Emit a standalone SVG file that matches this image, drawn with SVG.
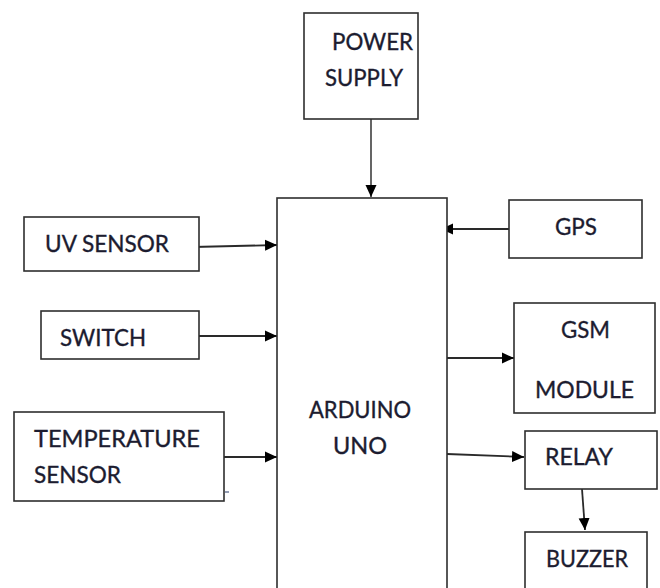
<svg xmlns="http://www.w3.org/2000/svg" width="660" height="588" viewBox="0 0 660 588">
<style>
.box{fill:#fff;stroke:#2e2e2e;stroke-width:1.6}
.t{font-family:Lato,"Open Sans","Liberation Sans",sans-serif;font-size:23px;fill:#1c1c30;stroke:#1c1c30;stroke-width:0.35}
.c{stroke:#2a2a2a;stroke-width:1.8;fill:none;marker-end:url(#ah)}
</style>
<defs>
<marker id="ah" markerUnits="userSpaceOnUse" markerWidth="13" markerHeight="13" refX="12" refY="6.5" orient="auto" viewBox="0 0 13 13">
<path d="M0,1 L12,6.5 L0,12 z" fill="#000"/>
</marker>
</defs>
<rect width="660" height="588" fill="#fff"/>
<g id="connectors">
<line class="c" x1="371" y1="119" x2="371" y2="197" style="stroke:#555"/>
<line class="c" x1="193" y1="247" x2="277" y2="245"/>
<line class="c" x1="199" y1="336" x2="277" y2="336"/>
<line class="c" x1="221" y1="457" x2="277" y2="457"/>
<line class="c" x1="509" y1="229" x2="441" y2="229"/>
<line class="c" x1="447" y1="358" x2="514" y2="358"/>
<line class="c" x1="447" y1="454" x2="524" y2="457"/>
<line class="c" x1="582" y1="489" x2="585" y2="530"/>
</g>
<g id="arduino">
<rect class="box" x="277" y="198" width="170" height="400"/>
<text class="t" x="309" y="418" textLength="102" lengthAdjust="spacingAndGlyphs">ARDUINO</text>
<text class="t" x="333" y="454" textLength="54" lengthAdjust="spacingAndGlyphs">UNO</text>
</g>
<g id="power">
<rect class="box" x="304" y="13" width="114" height="106"/>
<text class="t" x="332" y="50" textLength="81" lengthAdjust="spacingAndGlyphs">POWER</text>
<text class="t" x="325" y="86" textLength="78" lengthAdjust="spacingAndGlyphs">SUPPLY</text>
</g>
<g id="uv">
<rect class="box" x="24" y="217" width="175" height="54"/>
<text class="t" x="45" y="252" textLength="124" lengthAdjust="spacingAndGlyphs">UV SENSOR</text>
</g>
<g id="switch">
<rect class="box" x="41" y="311" width="158" height="48"/>
<text class="t" x="60" y="346" textLength="86" lengthAdjust="spacingAndGlyphs">SWITCH</text>
</g>
<g id="temperature">
<rect class="box" x="14" y="412" width="210" height="89"/>
<text class="t" x="34" y="447" textLength="166" lengthAdjust="spacingAndGlyphs">TEMPERATURE</text>
<text class="t" x="34" y="483" textLength="87" lengthAdjust="spacingAndGlyphs">SENSOR</text>
<line x1="225" y1="492" x2="229" y2="492" stroke="#4a5a80" stroke-width="1.2"/>
</g>
<g id="gps">
<rect class="box" x="509" y="200" width="133" height="58"/>
<text class="t" x="555" y="235" textLength="42" lengthAdjust="spacingAndGlyphs">GPS</text>
</g>
<g id="gsm">
<rect class="box" x="514" y="303" width="141" height="110"/>
<text class="t" x="561" y="338" textLength="49" lengthAdjust="spacingAndGlyphs">GSM</text>
<text class="t" x="535" y="398" textLength="99" lengthAdjust="spacingAndGlyphs">MODULE</text>
</g>
<g id="relay">
<rect class="box" x="525" y="431" width="132" height="58"/>
<text class="t" x="545" y="465" textLength="68" lengthAdjust="spacingAndGlyphs">RELAY</text>
</g>
<g id="buzzer">
<rect class="box" x="525" y="532" width="122" height="70"/>
<text class="t" x="546" y="567" textLength="82" lengthAdjust="spacingAndGlyphs">BUZZER</text>
</g>
</svg>
